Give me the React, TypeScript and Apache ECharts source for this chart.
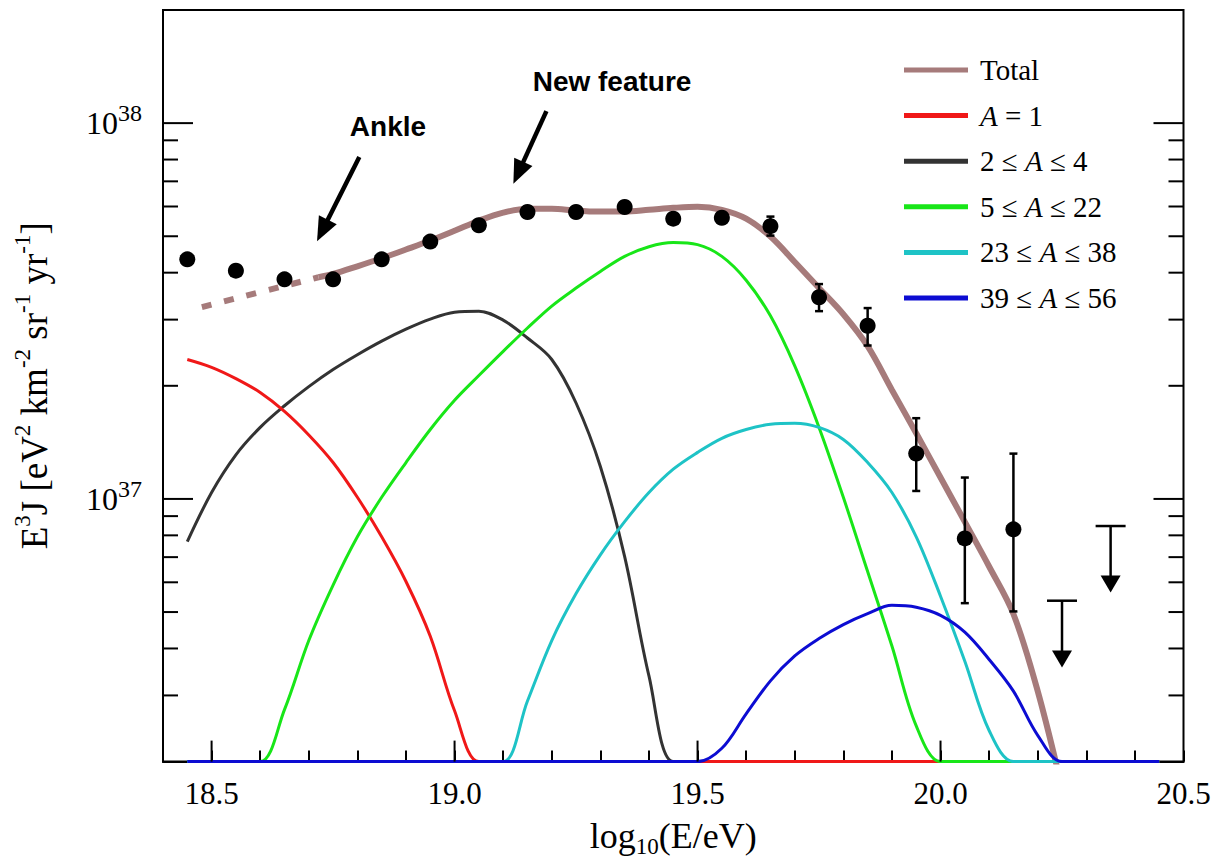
import React, { useEffect, useRef } from 'react';
import * as echarts from 'echarts';

const X_MIN = 18.4;
const X_MAX = 20.5;
const Y_MIN = 2e36;
const Y_MAX = 2e38;

// common sampling of the model curves (log10 E)
const curveX = [18.45, 18.5, 18.55, 18.6, 18.65, 18.7, 18.75, 18.8, 18.85, 18.9, 18.95, 19.0, 19.05, 19.1, 19.15, 19.2, 19.25, 19.3, 19.35, 19.4, 19.45, 19.5, 19.55, 19.6, 19.65, 19.7, 19.75, 19.8, 19.85, 19.9, 19.95, 20.0, 20.05, 20.1, 20.15, 20.2, 20.25, 20.3, 20.35, 20.4, 20.45];

const protonY = [2.35e37, 2.24e37, 2.09e37, 1.92e37, 1.71e37, 1.48e37, 1.25e37, 1.01e37, 7.93e36, 6.03e36, 4.31e36, 2.73e36,
  2e36, 2e36, 2e36, 2e36, 2e36, 2e36, 2e36, 2e36, 2e36, 2e36, 2e36, 2e36, 2e36, 2e36, 2e36, 2e36, 2e36, 2e36, 2e36, 2e36, 2e36, 2e36, 2e36, 2e36, 2e36, 2e36, 2e36, 2e36, 2e36];

const heliumY = [7.7e36, 1.04e37, 1.31e37, 1.55e37, 1.77e37, 1.99e37, 2.21e37, 2.42e37, 2.63e37, 2.83e37, 3.01e37, 3.14e37, 3.16e37, 2.99e37, 2.68e37, 2.35e37, 1.8e37, 1.22e37, 7.02e36, 3.38e36,
  2e36, 2e36, 2e36, 2e36, 2e36, 2e36, 2e36, 2e36, 2e36, 2e36, 2e36, 2e36, 2e36, 2e36, 2e36, 2e36, 2e36, 2e36, 2e36, 2e36, 2e36];

const cnoY = [2e36, 2e36, 2e36, 2e36,
  2.75e36, 4.2e36, 5.9e36, 7.93e36, 1.01e37, 1.25e37, 1.53e37, 1.83e37, 2.13e37, 2.47e37, 2.85e37, 3.26e37, 3.64e37, 4.03e37, 4.42e37, 4.69e37, 4.81e37, 4.75e37, 4.42e37, 3.82e37, 3.07e37, 2.26e37, 1.55e37, 1.01e37, 6.41e36, 4.06e36, 2.49e36,
  2e36, 2e36, 2e36, 2e36, 2e36, 2e36, 2e36, 2e36, 2e36, 2e36];

const siY = [2e36, 2e36, 2e36, 2e36, 2e36, 2e36, 2e36, 2e36, 2e36, 2e36, 2e36, 2e36, 2e36, 2e36,
  2.9e36, 4.2e36, 5.6e36, 7.1e36, 8.7e36, 1.04e37, 1.2e37, 1.33e37, 1.45e37, 1.53e37, 1.58e37, 1.59e37, 1.55e37, 1.44e37, 1.25e37, 1.04e37, 7.93e36, 5.51e36, 3.7e36, 2.42e36,
  2e36, 2e36, 2e36, 2e36, 2e36, 2e36, 2e36];

const feY = [2e36, 2e36, 2e36, 2e36, 2e36, 2e36, 2e36, 2e36, 2e36, 2e36, 2e36, 2e36, 2e36, 2e36, 2e36, 2e36, 2e36, 2e36, 2e36, 2e36, 2e36, 2e36,
  2.17e36, 2.68e36, 3.28e36, 3.82e36, 4.25e36, 4.63e36, 4.95e36, 5.21e36, 5.15e36, 4.9e36, 4.42e36, 3.74e36, 3.08e36, 2.35e36,
  2e36, 2e36, 2e36, 2e36, 2e36];

const totalX = [18.72, 18.75, 18.8, 18.85, 18.9, 18.95, 19.0, 19.05, 19.1, 19.15, 19.2, 19.25, 19.3, 19.35, 19.4, 19.45, 19.5, 19.55, 19.6, 19.65, 19.7, 19.75, 19.8, 19.85, 19.9, 19.95, 20.0, 20.05, 20.1, 20.15, 20.2, 20.25];
const totalY = [3.89e37, 3.97e37, 4.16e37, 4.37e37, 4.61e37, 4.87e37, 5.17e37, 5.5e37, 5.78e37, 5.92e37, 5.92e37, 5.85e37, 5.82e37, 5.82e37, 5.88e37, 5.95e37, 5.99e37, 5.88e37, 5.57e37, 4.99e37, 4.27e37, 3.64e37, 3.1e37, 2.55e37, 1.95e37, 1.495e37, 1.14e37, 8.69e36, 6.61e36, 4.94e36, 3.08e36, 1.7e36];

const totalExtrapX = [18.48, 18.72];
const totalExtrapY = [3.24e37, 3.89e37];

// measured flux
const dataX = [18.45, 18.55, 18.65, 18.75, 18.85, 18.95, 19.05, 19.15, 19.25, 19.35, 19.45, 19.55, 19.65, 19.75, 19.85, 19.95, 20.05, 20.15];
const dataY = [4.34e37, 4.05e37, 3.84e37, 3.84e37, 4.34e37, 4.84e37, 5.35e37, 5.8e37, 5.8e37, 5.98e37, 5.57e37, 5.6e37, 5.32e37, 3.44e37, 2.89e37, 1.32e37, 7.85e36, 8.3e36];

const errX = [19.65, 19.75, 19.85, 19.95, 20.05, 20.15];
const errLow = [5.02e37, 3.16e37, 2.56e37, 1.05e37, 5.28e36, 5.02e36];
const errHigh = [5.64e37, 3.73e37, 3.22e37, 1.64e37, 1.14e37, 1.32e37];

const limitX = [20.25, 20.35];
const limitY = [5.36e36, 8.47e36];
const limitTip = [3.56e36, 5.64e36];

const xMajorTicks = [18.5, 19.0, 19.5, 20.0];
const yMajorTicks = [1e37, 1e38];
const yMinorTicks = [3e36, 4e36, 5e36, 6e36, 7e36, 8e36, 9e36, 2e37, 3e37, 4e37, 5e37, 6e37, 7e37, 8e37, 9e37];

const annotationText = ['Ankle', 'New feature'];
const annotationAt = [[18.863, 9.82e37], [19.324, 1.29e38]];
const arrowFrom = [[18.804, 8.13e37], [19.189, 1.076e38]];
const arrowTo = [[18.717, 4.85e37], [19.121, 6.9e37]];

const seriesNames = ['Total', 'A = 1', '2 ≤ A ≤ 4', '5 ≤ A ≤ 22', '23 ≤ A ≤ 38', '39 ≤ A ≤ 56'];
const seriesColors = ['#a67b7b', '#f01818', '#333333', '#18e618', '#1ec3c6', '#0c0cd2'];

const SERIF = "'Liberation Serif', 'Times New Roman', serif";
const SANS = "'Liberation Sans', Arial, sans-serif";

function pairs(xs: number[], ys: number[]) {
  return xs.map((x, i) => [x, ys[i]]);
}

export default function App() {
  const ref = useRef<HTMLDivElement>(null);

  useEffect(() => {
    const chart = echarts.init(ref.current!, null, { renderer: 'svg' });

    const lineSeries = (name: string, color: string, xs: number[], ys: number[], width: number, extra: any = {}) => ({
      type: 'line',
      name,
      data: pairs(xs, ys),
      symbol: 'none',
      smooth: 0.35,
      clip: true,
      color,
      itemStyle: { color },
      lineStyle: { color, width, ...(extra.lineStyle || {}) },
      z: 2,
    });

    const option: any = {
      animation: false,
      backgroundColor: '#fff',
      textStyle: { fontFamily: SERIF },
      grid: { left: 163, right: 37.5, top: 10, bottom: 97, show: true, borderColor: '#000', borderWidth: 2 },
      legend: {
        orient: 'vertical',
        left: 899,
        top: 47,
        itemWidth: 64,
        itemHeight: 5,
        itemGap: 9.6,
        icon: 'rect',
        selectedMode: false,
        data: seriesNames,
        formatter: (name: string) => name.replace(/A/g, '{i|A}'),
        textStyle: {
          fontFamily: SERIF,
          fontSize: 29,
          lineHeight: 36,
          color: '#000',
          padding: [0, 0, 0, 7],
          rich: { i: { fontFamily: SERIF, fontSize: 29, lineHeight: 36, fontStyle: 'italic', color: '#000' } },
        },
      },
      xAxis: {
        type: 'value',
        min: X_MIN,
        max: X_MAX,
        interval: 0.1,
        name: 'log{sub|10}(E/eV)',
        nameLocation: 'middle',
        nameGap: 49,
        nameTextStyle: {
          fontFamily: SERIF,
          fontSize: 36,
          lineHeight: 44,
          color: '#000',
          rich: { sub: { fontFamily: SERIF, fontSize: 23, lineHeight: 23, verticalAlign: 'bottom', color: '#000' } },
        },
        axisLine: { lineStyle: { color: '#000', width: 2 } },
        axisTick: { inside: true, length: 11, lineStyle: { color: '#000', width: 2 } },
        splitLine: { show: false },
        axisLabel: {
          showMinLabel: true,
          showMaxLabel: true,
          margin: 15,
          fontFamily: SERIF,
          fontSize: 31,
          color: '#000',
          formatter: (v: number) => (Math.abs(v * 2 - Math.round(v * 2)) < 1e-6 ? `{n|${v.toFixed(1)}}` : ''),
          rich: { n: { fontFamily: SERIF, fontSize: 31, lineHeight: 34, color: '#000' } },
        },
      },
      yAxis: {
        type: 'log',
        logBase: 10,
        min: Y_MIN,
        max: Y_MAX,
        name: 'E{sup|3}J [eV{sup|2} km{sup|-2} sr{sup|-1} yr{sup|-1}]',
        nameLocation: 'middle',
        nameRotate: 90,
        nameGap: 106,
        nameTextStyle: {
          fontFamily: SERIF,
          fontSize: 37,
          lineHeight: 46,
          color: '#000',
          rich: { sup: { fontFamily: SERIF, fontSize: 23, lineHeight: 23, verticalAlign: 'top', color: '#000' } },
        },
        axisLine: { show: true, lineStyle: { color: '#000', width: 2 } },
        axisTick: { show: false },
        splitLine: { show: false },
        axisLabel: {
          margin: 21,
          fontFamily: SERIF,
          fontSize: 32,
          lineHeight: 44,
          color: '#000',
          formatter: (v: number) => {
            const l = Math.log10(v);
            return Math.abs(l - Math.round(l)) < 1e-6 ? `10{sup|${Math.round(l)}}` : '';
          },
          rich: { sup: { fontFamily: SERIF, fontSize: 24, lineHeight: 24, verticalAlign: 'top', color: '#000' } },
        },
      },
      series: [
        lineSeries('Total (extrapolated)', seriesColors[0], totalExtrapX, totalExtrapY, 6, { lineStyle: { type: [10, 13], cap: 'butt' } }),
        lineSeries(seriesNames[0], seriesColors[0], totalX, totalY, 6),
        lineSeries(seriesNames[2], seriesColors[2], curveX, heliumY, 3),
        lineSeries(seriesNames[1], seriesColors[1], curveX, protonY, 3),
        lineSeries(seriesNames[3], seriesColors[3], curveX, cnoY, 3),
        lineSeries(seriesNames[4], seriesColors[4], curveX, siY, 3),
        lineSeries(seriesNames[5], seriesColors[5], curveX, feY, 3),
        {
          type: 'custom',
          name: 'errors',
          z: 4,
          data: errX.map((x, i) => [x, errLow[i], errHigh[i]]),
          encode: { x: 0, y: [1, 2] },
          renderItem: (_p: any, api: any) => {
            const x = api.value(0);
            const a = api.coord([x, api.value(2)]);
            const b = api.coord([x, api.value(1)]);
            const st = { stroke: '#000', lineWidth: 2.5 };
            const w = 4;
            return {
              type: 'group',
              children: [
                { type: 'line', shape: { x1: a[0], y1: a[1], x2: b[0], y2: b[1] }, style: st },
                { type: 'line', shape: { x1: a[0] - w, y1: a[1], x2: a[0] + w, y2: a[1] }, style: st },
                { type: 'line', shape: { x1: b[0] - w, y1: b[1], x2: b[0] + w, y2: b[1] }, style: st },
              ],
            };
          },
        },
        {
          type: 'custom',
          name: 'limits',
          z: 4,
          data: limitX.map((x, i) => [x, limitY[i], limitTip[i]]),
          encode: { x: 0, y: [1, 2] },
          renderItem: (_p: any, api: any) => {
            const x = api.value(0);
            const a = api.coord([x, api.value(1)]);
            const t = api.coord([x, api.value(2)]);
            const st = { stroke: '#000', lineWidth: 2.5 };
            const w = 15;
            const h = 17;
            const hw = 10;
            return {
              type: 'group',
              children: [
                { type: 'line', shape: { x1: a[0] - w, y1: a[1], x2: a[0] + w, y2: a[1] }, style: st },
                { type: 'line', shape: { x1: a[0], y1: a[1], x2: t[0], y2: t[1] - h + 2 }, style: st },
                { type: 'polygon', shape: { points: [[t[0] - hw, t[1] - h], [t[0] + hw, t[1] - h], [t[0], t[1]]] }, style: { fill: '#000' } },
              ],
            };
          },
        },
        {
          type: 'scatter',
          name: 'data',
          z: 5,
          data: pairs(dataX, dataY),
          symbol: 'circle',
          symbolSize: 16,
          itemStyle: { color: '#000', opacity: 1 },
        },
      ],
    };

    chart.setOption(option);

    const px = (x: number, y: number) => chart.convertToPixel({ gridIndex: 0 }, [x, y]) as number[];
    const graphics: any[] = [];
    const tickStyle = { stroke: '#000', lineWidth: 2 };

    xMajorTicks.forEach((v) => {
      const p = px(v, Y_MIN);
      graphics.push({ type: 'line', shape: { x1: p[0], y1: p[1], x2: p[0], y2: p[1] - 21 }, style: tickStyle, z: 10 });
    });
    const addY = (v: number, len: number) => {
      const l = px(X_MIN, v);
      const r = px(X_MAX, v);
      graphics.push({ type: 'line', shape: { x1: l[0], y1: l[1], x2: l[0] + len, y2: l[1] }, style: tickStyle, z: 10 });
      graphics.push({ type: 'line', shape: { x1: r[0], y1: r[1], x2: r[0] - len, y2: r[1] }, style: tickStyle, z: 10 });
    };
    yMajorTicks.forEach((v) => addY(v, 30));
    yMinorTicks.forEach((v) => addY(v, 15));

    annotationText.forEach((t, i) => {
      const c = px(annotationAt[i][0], annotationAt[i][1]);
      graphics.push({
        type: 'text',
        x: c[0],
        y: c[1],
        z: 10,
        style: { text: t, fontFamily: SANS, fontWeight: 'bold', fontSize: 28, fill: '#000', align: 'center', verticalAlign: 'middle' },
      });
      const s = px(arrowFrom[i][0], arrowFrom[i][1]);
      const e = px(arrowTo[i][0], arrowTo[i][1]);
      const dx = e[0] - s[0];
      const dy = e[1] - s[1];
      const len = Math.hypot(dx, dy);
      const ux = dx / len;
      const uy = dy / len;
      const hl = 24;
      const hw = 10;
      const bx = e[0] - ux * hl;
      const by = e[1] - uy * hl;
      graphics.push({ type: 'line', shape: { x1: s[0], y1: s[1], x2: bx + ux * 2, y2: by + uy * 2 }, style: { stroke: '#000', lineWidth: 4.5 }, z: 10 });
      graphics.push({
        type: 'polygon',
        z: 10,
        shape: { points: [[e[0], e[1]], [bx - uy * hw, by + ux * hw], [bx + uy * hw, by - ux * hw]] },
        style: { fill: '#000' },
      });
    });

    chart.setOption({ graphic: graphics });

    return () => chart.dispose();
  }, []);

  return <div ref={ref} style={{ position: 'fixed', left: 0, top: 0, width: 1221, height: 863, background: '#fff' }} />;
}
